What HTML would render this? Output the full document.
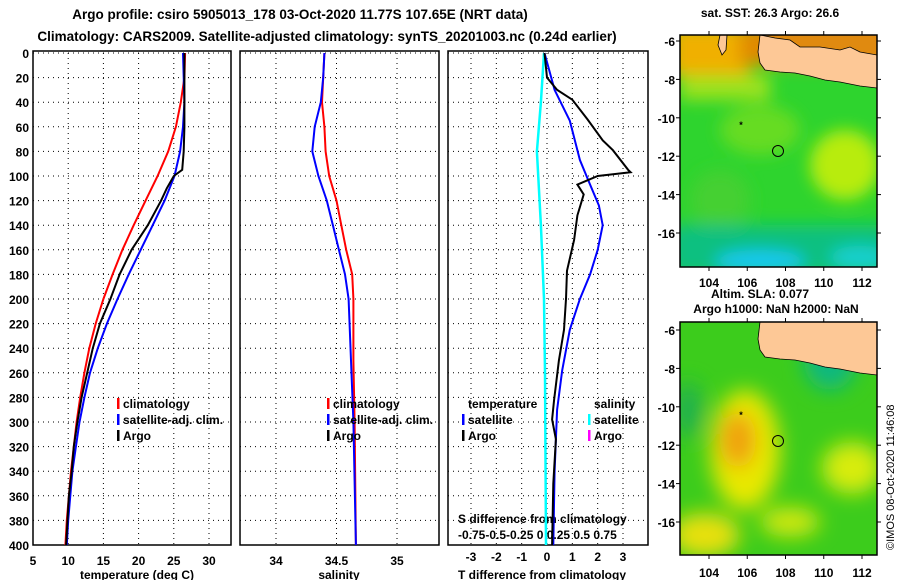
<!DOCTYPE html>
<html><head><meta charset="utf-8"><style>
html,body{margin:0;padding:0;background:#fff;}
svg{display:block;font-family:"Liberation Sans",Arial,sans-serif;font-weight:bold;}
text{font-size:12px;fill:#000;}
</style></head><body>
<svg id="c" width="900" height="580" viewBox="0 0 900 580">
<defs>
<filter id="blur" x="-20%" y="-20%" width="140%" height="140%"><feGaussianBlur stdDeviation="8"/></filter>
<filter id="blur2" x="-20%" y="-20%" width="140%" height="140%"><feGaussianBlur stdDeviation="10"/></filter>
<clipPath id="m1"><rect x="680" y="35" width="197" height="232"/></clipPath>
<clipPath id="m2"><rect x="680" y="322" width="197" height="233"/></clipPath>
</defs>
<text x="300" y="19" text-anchor="middle" style="font-size:13.5px">Argo profile: csiro 5905013_178 03-Oct-2020 11.77S 107.65E (NRT data)</text>
<text x="327" y="41" text-anchor="middle" style="font-size:13.5px">Climatology: CARS2009. Satellite-adjusted climatology: synTS_20201003.nc (0.24d earlier)</text>
<text x="770" y="17" text-anchor="middle">sat. SST: 26.3 Argo: 26.6</text>
<g id="plots"></g>
<!-- top map -->
<g clip-path="url(#m1)">
<rect x="680" y="35" width="197" height="232" fill="#2ed42e"/>
<g filter="url(#blur)">
<rect x="670" y="25" width="80" height="50" fill="#f0b000"/>
<rect x="740" y="25" width="150" height="40" fill="#e08a00"/>
<rect x="680" y="75" width="90" height="25" fill="#9ee21a"/>
<ellipse cx="845" cy="165" rx="35" ry="35" fill="#b8ec10"/>
<ellipse cx="760" cy="130" rx="40" ry="25" fill="#66dc22"/>
<ellipse cx="720" cy="200" rx="30" ry="30" fill="#44d030"/>
<rect x="670" y="225" width="220" height="50" fill="#10c080"/>
<ellipse cx="760" cy="262" rx="45" ry="12" fill="#14c8f0"/>
<ellipse cx="860" cy="258" rx="30" ry="12" fill="#18d0d0"/>
</g>
<polygon points="760,35 877,35 877,88 860,86 840,82 825,80 810,76 795,73 780,72 765,70 760,63 758,52" fill="#fdc896" stroke="#000" stroke-width="0.8"/>
<polygon points="760,35 877,35 877,55 860,52 850,47 840,50 820,47 800,47 790,40 775,38" fill="#e08a10" stroke="#000" stroke-width="0.8"/>
<polygon points="720,35 727,35 726,50 722,55 718,45" fill="#fdc896" stroke="#000" stroke-width="0.8"/>
<circle cx="778" cy="151" r="5.5" fill="none" stroke="#000" stroke-width="1"/>
<text x="741" y="128" text-anchor="middle" style="font-size:9px">*</text>
</g>
<rect x="680" y="35" width="197" height="232" fill="none" stroke="#000" stroke-width="1.5"/>
<!-- bottom map -->
<g clip-path="url(#m2)">
<rect x="680" y="322" width="197" height="233" fill="#3ccc1c"/>
<g filter="url(#blur2)">
<ellipse cx="745" cy="450" rx="35" ry="60" fill="#e8e800"/>
<ellipse cx="738" cy="440" rx="18" ry="28" fill="#f0a010"/>
<ellipse cx="830" cy="360" rx="26" ry="30" fill="#10b880"/>
<ellipse cx="852" cy="468" rx="30" ry="26" fill="#d8ec10"/>
<ellipse cx="705" cy="535" rx="35" ry="22" fill="#e8e010"/>
<ellipse cx="790" cy="522" rx="30" ry="15" fill="#d0e810"/>
<ellipse cx="688" cy="410" rx="14" ry="28" fill="#20b050"/>
</g>
<polygon points="760,322 877,322 877,375 860,373 840,369 825,367 810,363 795,360 780,359 765,357 760,350 758,339" fill="#fdc896" stroke="#000" stroke-width="0.8"/>
<circle cx="778" cy="441" r="5.5" fill="none" stroke="#000" stroke-width="1"/>
<text x="741" y="418" text-anchor="middle" style="font-size:9px">*</text>
</g>
<rect x="680" y="322" width="197" height="233" fill="none" stroke="#000" stroke-width="1.5"/>
<text x="760" y="298" text-anchor="middle">Altim. SLA: 0.077</text>
<text x="776" y="313" text-anchor="middle">Argo h1000: NaN h2000: NaN</text>
<text transform="translate(894,550) rotate(-90)" style="font-size:11px;font-weight:normal">©IMOS 08-Oct-2020 11:46:08</text>
</svg>
<script>
// ---- data ----
var depths = [0,20,40,60,80,95,100,110,120,140,160,180,200,220,240,260,280,300,320,340,360,380,400];
var tempArgo = [26.5,26.5,26.5,26.5,26.4,26.2,25,24,23.2,21.3,19,17.3,16,14.5,13.5,12.7,11.9,11.3,10.8,10.5,10.1,9.9,9.7];
var climDepths = [0,20,40,60,80,100,120,140,160,180,200,220,240,260,280,300,320,340,360,380,400];
var tempClim = [26.6,26.5,26,25.3,24.2,22.7,21,19.3,17.7,16.3,15,13.9,13,12.3,11.7,11.2,10.8,10.4,10.1,9.8,9.6];
var tempSat = [26.3,26.4,26.5,26.3,25.9,25.1,23.7,22,20.3,18.6,17,15.5,14.2,13.1,12.3,11.6,11.1,10.6,10.3,10,9.8];
var salDepths = [0,20,40,60,80,100,120,140,160,180,200,250,300,400];
var salClim = [34.4,34.39,34.38,34.4,34.41,34.44,34.5,34.54,34.58,34.63,34.64,34.64,34.65,34.66];
var salSat = [34.4,34.39,34.37,34.32,34.3,34.35,34.42,34.47,34.52,34.57,34.6,34.62,34.64,34.66];
var dtDepths = [0,30,55,87,107,124,140,160,180,200,225,258,290,340,400];
var dtSat = [-0.1,0.3,0.9,1.3,1.7,2.05,2.2,2.0,1.7,1.3,0.9,0.6,0.4,0.3,0.25];
var dtArgoDepths = [0,20,30,38,54,71,79,95,97,100,107,115,132,152,177,200,225,250,282,298,314,350,400];
var dtArgo = [-0.1,0,0.4,1.0,1.6,2.2,2.6,3.2,3.3,2.0,1.2,1.45,1.2,1.07,0.79,0.75,0.67,0.47,0.28,0.2,0.35,0.25,0.2];
var dsDepths = [0,40,80,140,200,260,400];
var dsSat = [-0.03,-0.06,-0.1,-0.06,-0.03,-0.02,-0.01];
var depthTicks = [0,20,40,60,80,100,120,140,160,180,200,220,240,260,280,300,320,340,360,380,400];
var tempTicks = [5,10,15,20,25,30];
var salTicks = [34,34.5,35];
var dtTicks = [-3,-2,-1,0,1,2,3];
var latTicks = [-6,-8,-10,-12,-14,-16];
var lonTicks = [104,106,108,110,112];

var NS='http://www.w3.org/2000/svg';
var root=document.getElementById('plots');
function mk(tag,at,parent){var e=document.createElementNS(NS,tag);for(var k in at)e.setAttribute(k,at[k]);(parent||root).appendChild(e);return e;}
var Y0=53,Y1=545;
function yD(d){return Y0+(d/400)*(Y1-Y0);}
function lin(d0,d1,r0,r1){return function(v){return r0+(v-d0)/(d1-d0)*(r1-r0);};}
var xT=lin(5,30,33,209), xS=lin(34,35,276,397), xDT=lin(-3,3,471,623), xDS=lin(-0.75,0.75,471,623);
var panels=[[33,231],[240,439],[448,648]];
panels.forEach(function(p,i){
  var g=mk('g',{});
  
  
  depthTicks.forEach(function(d){
    var l=mk('line',{x1:p[0],x2:p[1],y1:yD(d),y2:yD(d),stroke:'#000','stroke-width':1,'stroke-dasharray':'1,4'},g);
    
    
  });
  mk('rect',{x:p[0],y:Y0-2,width:p[1]-p[0],height:Y1-Y0+2,fill:'none',stroke:'#000','stroke-width':1.5},g);
});
function vgrid(ticks,sx,p,labels,ly){
  ticks.forEach(function(t){
    var x=sx(t);
    var l=mk('line',{x1:x,x2:x,y1:Y0,y2:Y1,stroke:'#000','stroke-width':1,'stroke-dasharray':'1,4'});
    
    
    if(labels){var tx=mk('text',{x:x,y:ly,'text-anchor':'middle'});tx.textContent=t;
      
      }
  });
}
vgrid(tempTicks,xT,panels[0],true,565);
vgrid(salTicks,xS,panels[1],true,565);
vgrid(dtTicks,xDT,panels[2],true,561);
depthTicks.forEach(function(d){
  var t=mk('text',{x:29,y:yD(d)+5,'text-anchor':'end'});t.textContent=d;
  
  
});
function lab(txt,x,y,name,anchor){var t=mk('text',{x:x,y:y,'text-anchor':anchor||'middle'});t.textContent=txt;
  
  return t;}
lab('temperature (deg C)',137,579,'temperature-axis-title');
lab('salinity',339,579,'salinity-axis-title');
lab('T difference from climatology',542,579,'t-diff-axis-title');
lab('S difference from climatology',458,523,'s-diff-axis-title','start');
lab('-0.75-0.5-0.25  0  0.25 0.5 0.75',458,539,'s-diff-tick-labels','start');
function line(xs,ds,sx,col,name,w){
  var pts=xs.map(function(v,i){return sx(v).toFixed(1)+','+yD(ds[i]).toFixed(1);}).join(' ');
  var pl=mk('polyline',{points:pts,fill:'none',stroke:col,'stroke-width':w||2});
  
  
}
line(tempClim,climDepths,xT,'#f00','temp-climatology-line');
line(tempSat,climDepths,xT,'#00f','temp-satellite-line');
line(tempArgo,depths,xT,'#000','temp-argo-line');
line(salClim,salDepths,xS,'#f00','sal-climatology-line');
line(salSat,salDepths,xS,'#00f','sal-satellite-line');
line(dsSat,dsDepths,xDS,'#0ff','s-diff-satellite-line',2.5);
line(dtSat,dtDepths,xDT,'#00f','t-diff-satellite-line');
line(dtArgo,dtArgoDepths,xDT,'#000','t-diff-argo-line');
function leg(x,y,col,txt,name){
  var r=mk('rect',{x:x,y:y-10,width:2.5,height:11,fill:col});
  
  
  lab(txt,x+6,y,name,'start');
}
leg(117,408,'#f00','climatology','legend-climatology');
leg(117,424,'#00f','satellite-adj. clim.','legend-satellite-adj');
leg(117,440,'#000','Argo','legend-argo');
leg(327,408,'#f00','climatology','legend-climatology-2');
leg(327,424,'#00f','satellite-adj. clim.','legend-satellite-adj-2');
leg(327,440,'#000','Argo','legend-argo-2');
lab('temperature',468,408,'legend-temperature-heading','start');
leg(462,424,'#00f','satellite','legend-t-satellite');
leg(462,440,'#000','Argo','legend-t-argo');
lab('salinity',594,408,'legend-salinity-heading','start');
leg(588,424,'#0ff','satellite','legend-s-satellite');
leg(588,440,'#f0f','Argo','legend-s-argo');
// map axes
var lonX=lin(104,112,709,862);
function mapAxes(top,bottom,latY,ly){
  latTicks.forEach(function(la){var y=latY(la);
    mk('line',{x1:676,x2:680,y1:y,y2:y,stroke:'#000'});mk('line',{x1:877,x2:881,y1:y,y2:y,stroke:'#000'});
    lab(String(la),675,y+5,'map-lat-label','end');});
  lonTicks.forEach(function(lo){var x=lonX(lo);
    mk('line',{x1:x,x2:x,y1:bottom,y2:bottom+4,stroke:'#000'});mk('line',{x1:x,x2:x,y1:top-4,y2:top,stroke:'#000'});
    lab(String(lo),x,ly,'map-lon-label');});
}
mapAxes(35,267,lin(-6,-16,41,233),287);
mapAxes(322,555,lin(-6,-16,330,522),577);
</script>
</body></html>
